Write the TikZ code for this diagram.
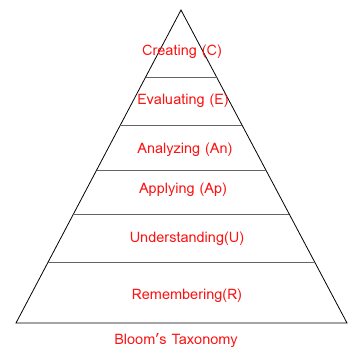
\documentclass[tikz,border=0pt]{standalone}
\usepackage{fontspec}
\setmainfont{Loma}
\usetikzlibrary{calc}
\definecolor{levelred}{RGB}{250,20,20}
\definecolor{rulegray}{RGB}{100,100,100}

\begin{document}
\begin{tikzpicture}[x=1pt,y=-1pt]
\tikzstyle{level}=[text=levelred,font=\fontsize{14.5}{16}\selectfont,inner sep=0pt]
\tikzstyle{divider}=[rulegray,line width=0.9pt]
\useasboundingbox (0,0) rectangle (356,350);
\coordinate (apex) at (181,10);
\coordinate (baseL) at (16,323);
\coordinate (baseR) at (347,323);
\draw[line width=0.8pt,line join=miter] (apex)--(baseR)--(baseL)--cycle;
% dividers between levels
\foreach \t/\n in {0.2141/a,0.3674/b,0.5112/c,0.6518/d,0.8051/e}{
  \coordinate (l\n) at ($(apex)!\t!(baseL)$);
  \coordinate (r\n) at ($(apex)!\t!(baseR)$);
  \draw[divider] (l\n)--(r\n);
}
\node[level] (creating) at (182,52) {Creating (C)};
\node[level] (evaluating) at (183,101) {Evaluating (E)};
\node[level] (analyzing) at (185,150) {Analyzing (An)};
\node[level] (applying) at (183,190) {Applying (Ap)};
\node[level] (understanding) at (187,239) {Understanding(U)};
\node[level] (remembering) at (187,296) {Remembering(R)};
\node[level] (title) at (176,341) {Bloom’s Taxonomy};
\end{tikzpicture}
\end{document}
